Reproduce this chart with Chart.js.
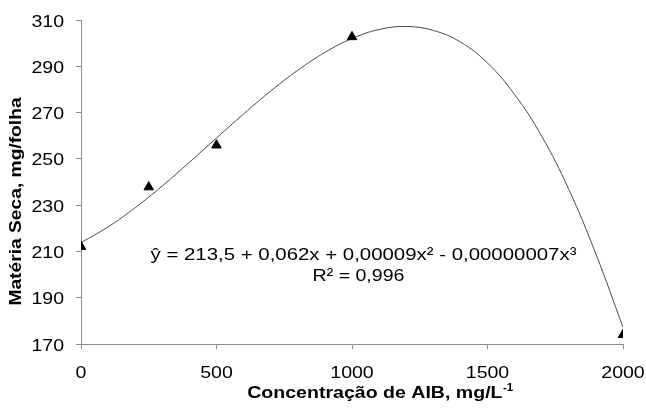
<!DOCTYPE html>
<html>
<head>
<meta charset="utf-8">
<script src="https://cdn.jsdelivr.net/npm/chart.js@4/dist/chart.umd.min.js"></script>
<style>
  html, body { margin: 0; padding: 0; background: #fff; }
  #wrap { width: 646px; height: 408px; }
</style>
</head>
<body>
<div id="wrap"><canvas id="c" width="646" height="408"></canvas></div>
<script>
// Measured dry matter per leaf at each IBA concentration
const concentrations = [0, 250, 500, 1000, 2000];
const dryMatter = [212.1, 237.8, 255.9, 302.7, 174.0];

// Fitted cubic trend line, sampled every 100 mg/L
const trendX = [0, 100, 200, 300, 400, 500, 600, 700, 800, 900, 1000,
                1100, 1200, 1300, 1400, 1500, 1600, 1700, 1800, 1900, 2000];
const trendY = [213.8, 220.6, 228.9, 238.3, 248.5, 259.0, 269.4, 279.3, 288.3, 296.0, 302.0,
                305.9, 307.2, 305.5, 300.5, 291.4, 277.8, 259.8, 236.8, 208.9, 177.2];

// Axis ticks
const xTicks = [0, 500, 1000, 1500, 2000];
const yTicks = [170, 190, 210, 230, 250, 270, 290, 310];

// Text
const equationText = 'ŷ = 213,5 + 0,062x + 0,00009x² - 0,00000007x³';
const r2Text = 'R² = 0,996';
const xTitle = 'Concentração de AIB, mg/L';
const xTitleSup = '-1';
const yTitle = 'Matéria Seca, mg/folha';

const FONT = '"Liberation Sans", Arial, sans-serif';
const AXIS_GREY = '#8c8c8c';
const STRETCH = 1.15;   // wide lettering used throughout the figure

// draw text widened along its baseline
function wideText(ctx, text, x, y, align, font, sx) {
  ctx.save();
  ctx.font = font;
  ctx.textAlign = align;
  ctx.textBaseline = 'alphabetic';
  ctx.translate(x, y);
  ctx.scale(sx, 1);
  ctx.fillText(text, 0, 0);
  ctx.restore();
}
function wideWidth(ctx, text, font, sx) {
  ctx.save();
  ctx.font = font;
  const w = ctx.measureText(text).width * sx;
  ctx.restore();
  return w;
}

const annotations = {
  id: 'annotations',
  afterDraw(chart) {
    const { ctx, chartArea: a, scales } = chart;
    ctx.save();
    ctx.fillStyle = '#000';
    const tickFont = '17px ' + FONT;

    // tick labels placed at the scale positions
    yTicks.forEach(v => {
      const py = scales.y.getPixelForValue(v);
      wideText(ctx, String(v), a.left - 17, py + 6.5, 'right', tickFont, STRETCH);
    });
    xTicks.forEach(v => {
      const px = scales.x.getPixelForValue(v);
      wideText(ctx, String(v), px, 378, 'center', tickFont, STRETCH);
    });

    // regression equation and R²
    wideText(ctx, equationText, 363.5, 260, 'center', '17px ' + FONT, 1.2);
    wideText(ctx, r2Text, 358.5, 281, 'center', '17px ' + FONT, STRETCH);

    // x axis title with superscript
    const tFont = 'bold 17px ' + FONT;
    const sFont = 'bold 10px ' + FONT;
    const mainW = wideWidth(ctx, xTitle, tFont, STRETCH);
    const supW = wideWidth(ctx, xTitleSup, sFont, STRETCH);
    const x0 = 380 - (mainW + supW) / 2;
    wideText(ctx, xTitle, x0, 398, 'left', tFont, STRETCH);
    wideText(ctx, xTitleSup, x0 + mainW + 0.5, 391, 'left', sFont, STRETCH);

    // y axis title, rotated
    ctx.save();
    ctx.translate(20.5, 201.5);
    ctx.rotate(-Math.PI / 2);
    wideText(ctx, yTitle, 0, 0, 'center', tFont, 1.13);
    ctx.restore();

    ctx.restore();
  }
};

new Chart(document.getElementById('c'), {
  type: 'scatter',
  data: {
    datasets: [
      {
        label: 'Matéria seca',
        data: concentrations.map((x, i) => ({ x, y: dryMatter[i] })),
        pointStyle: 'triangle',
        pointRadius: 5.5,
        pointBorderWidth: 1,
        pointBackgroundColor: '#000',
        pointBorderColor: '#000',
        showLine: false,
        order: 0
      },
      {
        label: 'Tendência',
        data: trendX.map((x, i) => ({ x, y: trendY[i] })),
        showLine: true,
        borderColor: '#4a4a4a',
        borderWidth: 1,
        pointRadius: 0,
        tension: 0.4,
        order: 1
      }
    ]
  },
  options: {
    responsive: false,
    devicePixelRatio: 1,
    animation: false,
    layout: { padding: { left: 0, right: 23, top: 20, bottom: 0 } },
    plugins: { legend: { display: false }, tooltip: { enabled: false } },
    scales: {
      x: {
        type: 'linear',
        min: 0, max: 2000,
        afterBuildTicks: s => { s.ticks = xTicks.map(v => ({ value: v })); },
        afterFit: s => { s.height = 64; },
        grid: { drawOnChartArea: false, drawTicks: true, tickLength: 5, color: AXIS_GREY },
        border: { display: true, color: AXIS_GREY, width: 1 },
        ticks: { display: false }
      },
      y: {
        type: 'linear',
        min: 170, max: 310,
        afterBuildTicks: s => { s.ticks = yTicks.map(v => ({ value: v })); },
        afterFit: s => { s.width = 81; },
        grid: { drawOnChartArea: false, drawTicks: true, tickLength: 5, color: AXIS_GREY },
        border: { display: true, color: AXIS_GREY, width: 1 },
        ticks: { display: false }
      }
    }
  },
  plugins: [annotations]
});
</script>
</body>
</html>
